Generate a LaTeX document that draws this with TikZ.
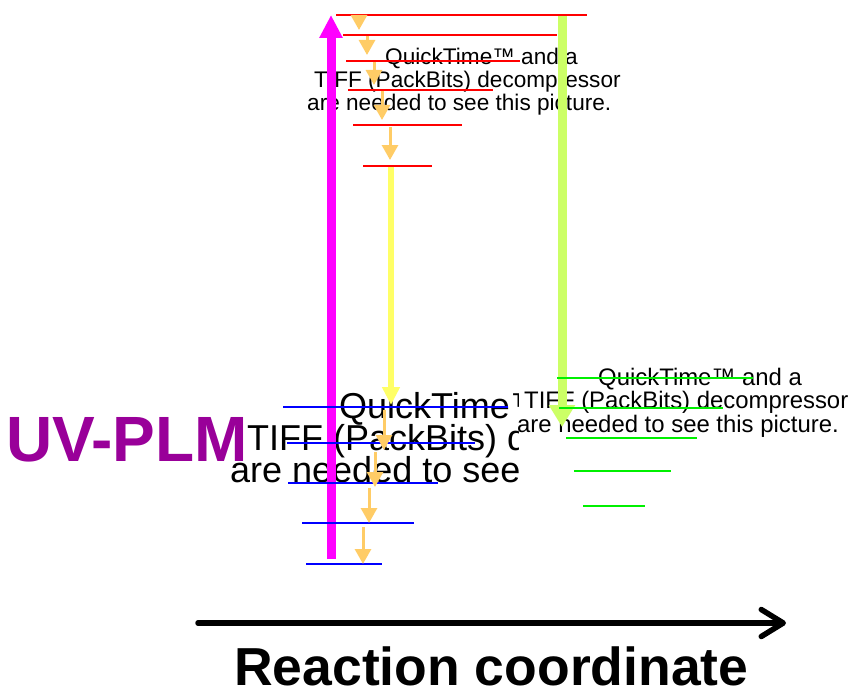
\documentclass[tikz,border=0pt]{standalone}
\usepackage{fontspec}
\setmainfont{Liberation Sans}
\usetikzlibrary{arrows.meta}
\definecolor{mag}{RGB}{255,0,255}
\definecolor{uvp}{RGB}{153,0,153}
\definecolor{lime}{RGB}{204,255,102}
\definecolor{yel}{RGB}{255,255,102}
\definecolor{ora}{RGB}{255,204,102}
\definecolor{grn}{RGB}{0,240,0}
\begin{document}
\begin{tikzpicture}[x=1pt,y=-1pt,
  qtsmall/.style={anchor=base west,inner sep=0pt,font=\fontsize{22.6}{22.6}\selectfont},
  qtright/.style={anchor=base west,inner sep=0pt,font=\fontsize{23.9}{23.9}\selectfont},
  qtbig/.style={anchor=base west,inner sep=0pt,font=\fontsize{36}{36}\selectfont},
  redlevel/.style={draw=red,line width=2pt},
  bluelevel/.style={draw=blue,line width=2pt},
  greenlevel/.style={draw=grn,line width=2pt},
  relax/.style={draw=ora,line width=3pt,-{Triangle[length=15pt,width=16pt]}},
  pump/.style={draw=mag,line width=9pt,-{Triangle[length=23pt,width=22pt]}},
  emit/.style={draw=lime,line width=9pt,-{Triangle[length=22pt,width=25pt]}},
  cross/.style={draw=yel,line width=6pt,-{Triangle[length=18pt,width=17pt]}},
  axis/.style={draw=black,line width=5.5pt,line cap=round,-{Straight Barb[length=22pt,width=27pt,round]}}
]
\useasboundingbox (0,0) rectangle (850,690);

% placeholder texts
\node[qtsmall] (ta) at (385,65) {QuickTime™ and a};
\node[qtsmall] (tb) at (314,88) {TIFF (PackBits) decompressor};
\node[qtsmall] (tc) at (307,110.5) {are needed to see this picture.};

\node[qtright] (ra) at (598,385) {QuickTime™ and a};
\node[qtright] (rb) at (524,408.5) {TIFF (PackBits) decompressor};
\node[qtright] (rc) at (517,432) {are needed to see this picture.};

\begin{scope}
  \clip (0,370) rectangle (518,500);
  \node[qtbig] (ba) at (339,418) {QuickTime™ and a};
  \node[qtbig] (bb) at (247,450) {TIFF (PackBits) decompressor};
  \node[qtbig] (bc) at (230,482) {are needed to see this picture.};
\end{scope}

\node[anchor=base west,inner sep=0pt,text=uvp,font=\fontsize{64}{64}\selectfont\bfseries] (uv) at (6,461) {UV-PLM};
\node[anchor=base west,inner sep=0pt,font=\fontsize{53.5}{53.5}\selectfont\bfseries] (rcl) at (234,685) {Reaction coordinate};

% coordinates of levels
\coordinate (r1a) at (336,15);  \coordinate (r1b) at (587,15);
\coordinate (r2a) at (343,35);  \coordinate (r2b) at (557,35);
\coordinate (r3a) at (346,61);  \coordinate (r3b) at (520,61);
\coordinate (r4a) at (348,90);  \coordinate (r4b) at (493,90);
\coordinate (r5a) at (353,125); \coordinate (r5b) at (462,125);
\coordinate (r6a) at (363,166); \coordinate (r6b) at (432,166);

\coordinate (b1a) at (283,407); \coordinate (b1b) at (508,407);
\coordinate (b2a) at (287,443); \coordinate (b2b) at (475,443);
\coordinate (b3a) at (288,483); \coordinate (b3b) at (438,483);
\coordinate (b4a) at (302,523); \coordinate (b4b) at (414,523);
\coordinate (b5a) at (306,564); \coordinate (b5b) at (382,564);

\coordinate (g1a) at (557,378); \coordinate (g1b) at (753,378);
\coordinate (g2a) at (559,408); \coordinate (g2b) at (723,408);
\coordinate (g3a) at (566,438); \coordinate (g3b) at (697,438);
\coordinate (g4a) at (574,471); \coordinate (g4b) at (671,471);
\coordinate (g5a) at (583,506); \coordinate (g5b) at (645,506);

% big arrows
\coordinate (ys) at (391,166); \coordinate (ye) at (391,405);
\draw[cross] (ys) -- (ye);
\coordinate (es) at (562,15); \coordinate (ee) at (562,427);
\draw[emit] (es) -- (ee);
\coordinate (ps) at (331,559); \coordinate (pe) at (331,15);
\draw[pump] (ps) -- (pe);

% levels
\draw[redlevel] (r1a) -- (r1b);
\draw[redlevel] (r2a) -- (r2b);
\draw[redlevel] (r3a) -- (r3b);
\draw[redlevel] (r4a) -- (r4b);
\draw[redlevel] (r5a) -- (r5b);
\draw[redlevel] (r6a) -- (r6b);
\draw[bluelevel] (b1a) -- (b1b);
\draw[bluelevel] (b2a) -- (b2b);
\draw[bluelevel] (b3a) -- (b3b);
\draw[bluelevel] (b4a) -- (b4b);
\draw[bluelevel] (b5a) -- (b5b);
\draw[greenlevel] (g1a) -- (g1b);
\draw[greenlevel] (g2a) -- (g2b);
\draw[greenlevel] (g3a) -- (g3b);
\draw[greenlevel] (g4a) -- (g4b);
\draw[greenlevel] (g5a) -- (g5b);

% vibrational relaxation arrows (upper)
\coordinate (o1s) at (359,16);  \coordinate (o1e) at (359,30);
\coordinate (o2s) at (367,36);  \coordinate (o2e) at (367,55);
\coordinate (o3s) at (374,62);  \coordinate (o3e) at (374,85);
\coordinate (o4s) at (382,91);  \coordinate (o4e) at (382,120);
\coordinate (o5s) at (390,127); \coordinate (o5e) at (390,160);
\draw[relax] (o1s) -- (o1e);
\draw[relax] (o2s) -- (o2e);
\draw[relax] (o3s) -- (o3e);
\draw[relax] (o4s) -- (o4e);
\draw[relax] (o5s) -- (o5e);

% vibrational relaxation arrows (lower)
\coordinate (p1s) at (384,410); \coordinate (p1e) at (384,450);
\coordinate (p2s) at (375,452); \coordinate (p2e) at (375,487);
\coordinate (p3s) at (369,488); \coordinate (p3e) at (369,523);
\coordinate (p4s) at (363,527); \coordinate (p4e) at (363,564);
\draw[relax] (p1s) -- (p1e);
\draw[relax] (p2s) -- (p2e);
\draw[relax] (p3s) -- (p3e);
\draw[relax] (p4s) -- (p4e);

% reaction coordinate axis
\coordinate (ax0) at (198,623); \coordinate (ax1) at (786,623);
\draw[axis] (ax0) -- (ax1);
\end{tikzpicture}
\end{document}
